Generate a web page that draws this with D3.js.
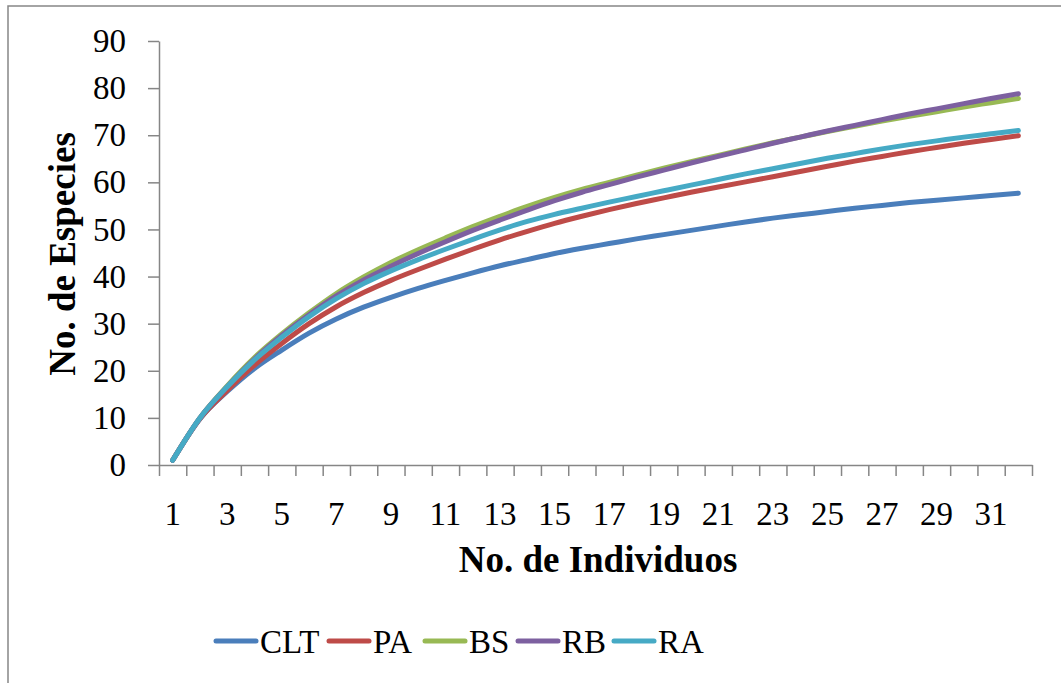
<!DOCTYPE html>
<html>
<head>
<meta charset="utf-8">
<script src="https://cdn.jsdelivr.net/npm/d3@7"></script>
<style>
  body { margin: 0; background: #fff; }
  text { font-family: "Liberation Serif", "DejaVu Serif", serif; fill: #000; }
  .axis path, .axis line { stroke: #868686; stroke-width: 1.5; }
  .axisTitle { font-weight: bold; font-size: 37px; }
</style>
</head>
<body>
<div id="chart"></div>
<script>
// Data
var individuos = d3.range(1, 33);
var clt = [1, 9.8, 15.6, 20.5, 24.4, 28.0, 31.0, 33.5, 35.6, 37.5, 39.2, 40.8, 42.3, 43.6, 44.9, 46.0,
           47.0, 48.0, 48.9, 49.8, 50.7, 51.6, 52.4, 53.1, 53.8, 54.5, 55.1, 55.7, 56.2, 56.7, 57.2, 57.7];
var pa  = [1, 9.8, 15.8, 21.2, 25.8, 30.0, 33.6, 36.6, 39.2, 41.5, 43.7, 45.8, 47.8, 49.6, 51.3, 52.8,
           54.2, 55.5, 56.7, 57.9, 59.0, 60.1, 61.2, 62.3, 63.4, 64.5, 65.5, 66.5, 67.4, 68.3, 69.1, 69.9];
var bs  = [1, 10, 16.8, 22.8, 27.8, 32.3, 36.4, 39.9, 43.0, 45.7, 48.2, 50.6, 52.8, 54.9, 56.8, 58.5,
           60.0, 61.5, 63.0, 64.4, 65.7, 67.1, 68.4, 69.6, 70.8, 71.9, 73.0, 74.0, 75.0, 76.0, 76.9, 77.8];
var rb  = [1, 10, 16.6, 22.5, 27.5, 31.9, 35.9, 39.3, 42.2, 44.9, 47.4, 49.8, 52.0, 54.1, 56.1, 57.9,
           59.5, 61.1, 62.6, 64.1, 65.5, 66.9, 68.3, 69.6, 70.9, 72.1, 73.3, 74.5, 75.6, 76.7, 77.8, 78.8];
var ra  = [1, 10, 16.6, 22.3, 27.1, 31.5, 35.3, 38.5, 41.2, 43.6, 45.8, 47.9, 49.9, 51.7, 53.2, 54.5,
           55.8, 57.0, 58.2, 59.4, 60.6, 61.8, 62.9, 64.0, 65.1, 66.1, 67.1, 68.0, 68.8, 69.6, 70.3, 71.0];
var seriesNames = ["CLT", "PA", "BS", "RB", "RA"];
var yTicks = [0, 10, 20, 30, 40, 50, 60, 70, 80, 90];

var colors = ["#4a7ebb", "#be4b48", "#98b954", "#7d60a0", "#46aac5"];
var seriesValues = [clt, pa, bs, rb, ra];

// Chart area size
var svgWidth = 1061;
var svgHeight = 683;
var plot = { left: 159, right: 1032, top: 41, bottom: 465 };

var svg = d3.select("#chart")
    .append("svg")
    .attr("width", svgWidth)
    .attr("height", svgHeight);

// outer frame
svg.append("rect")
    .attr("x", 8).attr("y", 6)
    .attr("width", svgWidth + 20).attr("height", svgHeight + 20)
    .attr("fill", "#fff")
    .attr("stroke", "#868686")
    .attr("stroke-width", 1.5);

// Scales
var xBand = d3.scaleBand()
    .domain(individuos)
    .range([plot.left, plot.right]);
var xEdge = d3.scaleLinear()
    .domain([0.5, 32.5])
    .range([plot.left, plot.right]);
var yScale = d3.scaleLinear()
    .domain([0, 90])
    .range([plot.bottom, plot.top]);

// Y axis
var yAxis = svg.append("g")
    .attr("class", "axis")
    .attr("transform", `translate(${plot.left}, 0)`)
    .call(d3.axisLeft(yScale).tickValues(yTicks).tickSize(11).tickPadding(22).tickSizeOuter(0));
yAxis.selectAll("text").attr("font-size", "33px").attr("font-family", null);

// X axis tick marks at category edges
svg.append("g")
    .attr("class", "axis")
    .attr("transform", `translate(0, ${plot.bottom})`)
    .call(d3.axisBottom(xEdge).tickValues(d3.range(0.5, 33, 1)).tickSize(11).tickFormat("").tickSizeOuter(0));

// X axis labels (every other category)
var xLabels = svg.append("g")
    .attr("class", "axis")
    .attr("transform", `translate(0, ${plot.bottom})`)
    .call(d3.axisBottom(xBand).tickValues(individuos.filter(d => d % 2 === 1)).tickSize(0).tickPadding(37));
xLabels.select(".domain").remove();
xLabels.selectAll("text").attr("font-size", "33px").attr("font-family", null);

// Lines
var line = d3.line()
    .x((d, i) => xBand(individuos[i]) + xBand.bandwidth() / 2)
    .y(d => yScale(d))
    .curve(d3.curveMonotoneX);

svg.selectAll(".serie")
    .data(seriesValues)
    .enter()
    .append("path")
    .attr("class", "serie")
    .attr("d", line)
    .attr("fill", "none")
    .attr("stroke", (d, i) => colors[i])
    .attr("stroke-width", 5)
    .attr("stroke-linecap", "round")
    .attr("stroke-linejoin", "round");

// Axis titles
svg.append("text")
    .attr("class", "axisTitle")
    .attr("x", 598)
    .attr("y", 572)
    .attr("text-anchor", "middle")
    .text("No. de Individuos");

svg.append("text")
    .attr("class", "axisTitle")
    .attr("transform", "translate(75, 254) rotate(-90)")
    .attr("text-anchor", "middle")
    .text("No. de Especies");

// Legend
var legendX = [216, 329, 425, 518, 614];
var legend = svg.selectAll(".legend")
    .data(seriesNames)
    .enter()
    .append("g")
    .attr("class", "legend")
    .attr("transform", (d, i) => `translate(${legendX[i]}, 641)`);
legend.append("line")
    .attr("x1", 0).attr("x2", 40)
    .attr("stroke", (d, i) => colors[i])
    .attr("stroke-width", 5)
    .attr("stroke-linecap", "round");
legend.append("text")
    .attr("x", 44)
    .attr("dy", "0.35em")
    .attr("font-size", "33px")
    .text(d => d);
</script>
</body>
</html>
